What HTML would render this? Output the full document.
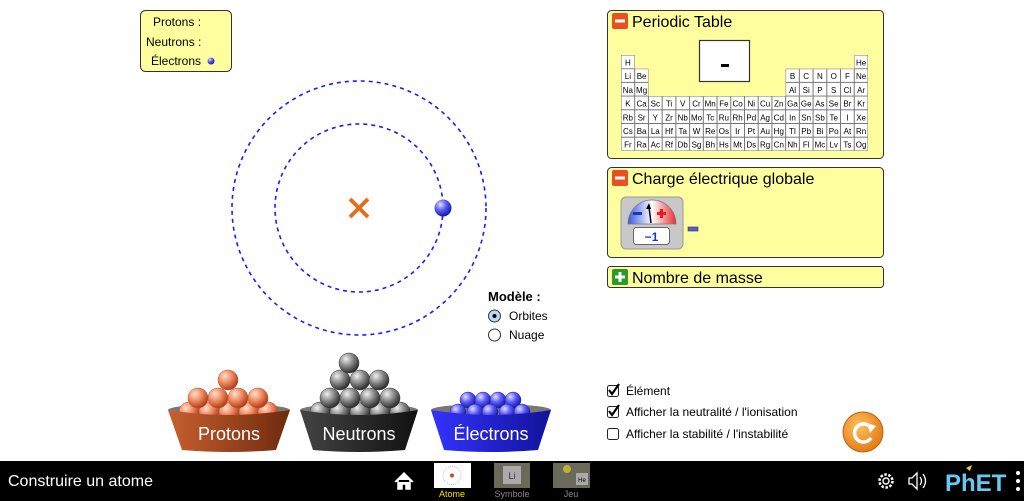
<!DOCTYPE html>
<html><head><meta charset="utf-8"><style>
html,body{margin:0;padding:0;width:1024px;height:501px;overflow:hidden;background:#fff}
svg{display:block;font-family:"Liberation Sans",sans-serif}
</style></head><body>
<svg width="1024" height="501" viewBox="0 0 1024 501" xmlns="http://www.w3.org/2000/svg">
<defs>
<radialGradient id="gp" cx="0.35" cy="0.3" r="0.7"><stop offset="0" stop-color="#ffe0d0"/><stop offset="0.5" stop-color="#f08a60"/><stop offset="1" stop-color="#b0401a"/></radialGradient>
<radialGradient id="gn" cx="0.35" cy="0.3" r="0.7"><stop offset="0" stop-color="#f0f0f0"/><stop offset="0.5" stop-color="#8a8a8a"/><stop offset="1" stop-color="#303030"/></radialGradient>
<radialGradient id="ge" cx="0.35" cy="0.3" r="0.7"><stop offset="0" stop-color="#e0e0ff"/><stop offset="0.5" stop-color="#5a5aff"/><stop offset="1" stop-color="#1a1aa0"/></radialGradient>
<linearGradient id="bp" x1="0" x2="1"><stop offset="0" stop-color="#c8602e"/><stop offset="1" stop-color="#6e2a0e"/></linearGradient>
<linearGradient id="bn" x1="0" x2="1"><stop offset="0" stop-color="#444"/><stop offset="1" stop-color="#111"/></linearGradient>
<linearGradient id="be" x1="0" x2="1"><stop offset="0" stop-color="#3333ff"/><stop offset="1" stop-color="#12129a"/></linearGradient>
<linearGradient id="gauge" x1="0" x2="1"><stop offset="0" stop-color="#3a5ae0"/><stop offset="0.5" stop-color="#fff"/><stop offset="1" stop-color="#e83030"/></linearGradient>
<radialGradient id="orng" cx="0.4" cy="0.35" r="0.7"><stop offset="0" stop-color="#ffc060"/><stop offset="1" stop-color="#e07810"/></radialGradient>
<pattern id="cell" patternUnits="userSpaceOnUse" x="621" y="55" width="13.72" height="13.7"><rect x="0" y="0" width="13.72" height="13.7" fill="#fff" stroke="#777" stroke-width="1"/></pattern>
</defs>

<rect x="140.5" y="10.5" width="91" height="61" rx="5" fill="#fefe9e" stroke="#333"/>
<text font-size="12" fill="#000"><tspan x="153" y="26">Protons :</tspan><tspan x="146" y="46">Neutrons :</tspan><tspan x="151" y="65">Électrons</tspan></text>
<circle cx="211" cy="61" r="3.5" fill="url(#ge)"/>

<circle cx="359" cy="208" r="84" fill="none" stroke="#1a1aff" stroke-width="1.6" stroke-dasharray="4,4"/>
<circle cx="359" cy="208" r="127" fill="none" stroke="#1a1aff" stroke-width="1.6" stroke-dasharray="4,4"/>
<path d="M350 199 L368 217 M368 199 L350 217" stroke="#e07020" stroke-width="4"/>
<circle cx="443" cy="208" r="8.5" fill="url(#ge)"/>

<text x="488" y="301" font-size="13" font-weight="bold">Modèle :</text>
<circle cx="494.5" cy="316" r="6" fill="#bcd8f5" stroke="#333"/><circle cx="494.5" cy="316" r="2" fill="#000"/>
<text x="509" y="320" font-size="12">Orbites</text>
<circle cx="494.5" cy="335" r="6" fill="#fff" stroke="#333"/>
<text x="509" y="339" font-size="12">Nuage</text>

<ellipse cx="229" cy="410" rx="61" ry="6" fill="#777"/>
<g fill="url(#gp)" stroke="#b85030" stroke-width="0.5">
<circle cx="189" cy="412" r="10"/><circle cx="209" cy="412" r="10"/><circle cx="229" cy="412" r="10"/><circle cx="249" cy="412" r="10"/><circle cx="268" cy="412" r="10"/>
<circle cx="198" cy="398" r="10"/><circle cx="218" cy="398" r="10"/><circle cx="238" cy="398" r="10"/><circle cx="258" cy="398" r="10"/>
<circle cx="228" cy="380" r="10"/></g>
<path d="M168 410 Q229 420 290 410 L276 450 Q229 454 182 450 Z" fill="url(#bp)"/>
<text x="229" y="440" font-size="18" fill="#fff" text-anchor="middle">Protons</text>

<ellipse cx="359" cy="410" rx="59" ry="6" fill="#777"/>
<g fill="url(#gn)" stroke="#333" stroke-width="0.5">
<circle cx="320" cy="412" r="10"/><circle cx="340" cy="412" r="10"/><circle cx="360" cy="412" r="10"/><circle cx="380" cy="412" r="10"/><circle cx="400" cy="412" r="10"/>
<circle cx="330" cy="398" r="10"/><circle cx="350" cy="398" r="10"/><circle cx="370" cy="398" r="10"/><circle cx="390" cy="398" r="10"/>
<circle cx="340" cy="380" r="10"/><circle cx="360" cy="380" r="10"/><circle cx="379" cy="380" r="10"/>
<circle cx="349" cy="363" r="10"/></g>
<path d="M300 410 Q359 420 418 410 L405 450 Q359 454 313 450 Z" fill="url(#bn)"/>
<text x="359" y="440" font-size="18" fill="#fff" text-anchor="middle">Neutrons</text>

<ellipse cx="491" cy="410" rx="60" ry="6" fill="#777"/>
<g fill="url(#ge)" stroke="#2020a0" stroke-width="0.5">
<circle cx="468" cy="400" r="8"/><circle cx="483" cy="400" r="8"/><circle cx="498" cy="400" r="8"/><circle cx="513" cy="400" r="8"/>
<circle cx="458" cy="412" r="8"/><circle cx="475" cy="412" r="8"/><circle cx="490" cy="412" r="8"/><circle cx="507" cy="412" r="8"/><circle cx="522" cy="412" r="8"/></g>
<path d="M431 410 Q491 420 551 410 L538 450 Q491 454 444 450 Z" fill="url(#be)"/>
<text x="491" y="440" font-size="18" fill="#fff" text-anchor="middle">Électrons</text>

<rect x="607.5" y="10.5" width="276" height="148" rx="4" fill="#fefe9e" stroke="#333"/>
<rect x="612" y="13" width="16" height="16" rx="2" fill="#e85020"/><rect x="615" y="19.5" width="10" height="3" fill="#fff"/>
<text x="632" y="27" font-size="16">Periodic Table</text>
<rect x="699.5" y="40.5" width="50" height="41" fill="#fff" stroke="#333" stroke-width="1.2"/>
<rect x="721" y="64" width="8" height="3" fill="#000"/>
<g fill="url(#cell)">
<rect x="621" y="55" width="13.72" height="13.7"/><rect x="854.24" y="55" width="13.72" height="13.7"/>
<rect x="621" y="68.7" width="27.44" height="27.4"/><rect x="785.64" y="68.7" width="82.32" height="27.4"/>
<rect x="621" y="96.1" width="246.96" height="54.8"/>
</g>
<g font-size="8" text-anchor="middle" fill="#000">
<text y="65.5"><tspan x="627.9">H</tspan><tspan x="861.1">He</tspan></text>
<text y="79.2"><tspan x="627.9">Li</tspan><tspan x="641.6">Be</tspan><tspan x="792.5">B</tspan><tspan x="806.2">C</tspan><tspan x="819.9">N</tspan><tspan x="833.7">O</tspan><tspan x="847.4">F</tspan><tspan x="861.1">Ne</tspan></text>
<text y="92.9"><tspan x="627.9">Na</tspan><tspan x="641.6">Mg</tspan><tspan x="792.5">Al</tspan><tspan x="806.2">Si</tspan><tspan x="819.9">P</tspan><tspan x="833.7">S</tspan><tspan x="847.4">Cl</tspan><tspan x="861.1">Ar</tspan></text>
<text y="106.6"><tspan x="627.9">K</tspan><tspan x="641.6">Ca</tspan><tspan x="655.3">Sc</tspan><tspan x="669">Ti</tspan><tspan x="682.7">V</tspan><tspan x="696.5">Cr</tspan><tspan x="710.2">Mn</tspan><tspan x="723.9">Fe</tspan><tspan x="737.6">Co</tspan><tspan x="751.3">Ni</tspan><tspan x="765.1">Cu</tspan><tspan x="778.8">Zn</tspan><tspan x="792.5">Ga</tspan><tspan x="806.2">Ge</tspan><tspan x="819.9">As</tspan><tspan x="833.7">Se</tspan><tspan x="847.4">Br</tspan><tspan x="861.1">Kr</tspan></text>
<text y="120.3"><tspan x="627.9">Rb</tspan><tspan x="641.6">Sr</tspan><tspan x="655.3">Y</tspan><tspan x="669">Zr</tspan><tspan x="682.7">Nb</tspan><tspan x="696.5">Mo</tspan><tspan x="710.2">Tc</tspan><tspan x="723.9">Ru</tspan><tspan x="737.6">Rh</tspan><tspan x="751.3">Pd</tspan><tspan x="765.1">Ag</tspan><tspan x="778.8">Cd</tspan><tspan x="792.5">In</tspan><tspan x="806.2">Sn</tspan><tspan x="819.9">Sb</tspan><tspan x="833.7">Te</tspan><tspan x="847.4">I</tspan><tspan x="861.1">Xe</tspan></text>
<text y="134"><tspan x="627.9">Cs</tspan><tspan x="641.6">Ba</tspan><tspan x="655.3">La</tspan><tspan x="669">Hf</tspan><tspan x="682.7">Ta</tspan><tspan x="696.5">W</tspan><tspan x="710.2">Re</tspan><tspan x="723.9">Os</tspan><tspan x="737.6">Ir</tspan><tspan x="751.3">Pt</tspan><tspan x="765.1">Au</tspan><tspan x="778.8">Hg</tspan><tspan x="792.5">Tl</tspan><tspan x="806.2">Pb</tspan><tspan x="819.9">Bi</tspan><tspan x="833.7">Po</tspan><tspan x="847.4">At</tspan><tspan x="861.1">Rn</tspan></text>
<text y="147.7"><tspan x="627.9">Fr</tspan><tspan x="641.6">Ra</tspan><tspan x="655.3">Ac</tspan><tspan x="669">Rf</tspan><tspan x="682.7">Db</tspan><tspan x="696.5">Sg</tspan><tspan x="710.2">Bh</tspan><tspan x="723.9">Hs</tspan><tspan x="737.6">Mt</tspan><tspan x="751.3">Ds</tspan><tspan x="765.1">Rg</tspan><tspan x="778.8">Cn</tspan><tspan x="792.5">Nh</tspan><tspan x="806.2">Fl</tspan><tspan x="819.9">Mc</tspan><tspan x="833.7">Lv</tspan><tspan x="847.4">Ts</tspan><tspan x="861.1">Og</tspan></text>
</g>

<rect x="607.5" y="167.5" width="276" height="90" rx="4" fill="#fefe9e" stroke="#333"/>
<rect x="612" y="170" width="16" height="16" rx="2" fill="#e85020"/><rect x="615" y="176.5" width="10" height="3" fill="#fff"/>
<text x="632" y="184" font-size="16">Charge électrique globale</text>
<rect x="621" y="197" width="62" height="52" rx="5" fill="#c8c8c8" stroke="#999"/>
<path d="M628 224 A24 24 0 0 1 676 224 Z" fill="url(#gauge)" stroke="#777" stroke-width="0.8"/>
<rect x="633" y="212" width="9" height="3" fill="#1a3ab0"/>
<path d="M660 209 h3 v3 h3 v3 h-3 v3 h-3 v-3 h-3 v-3 h3 Z" fill="#e02020"/>
<path d="M651 223 L649 207" stroke="#000" stroke-width="1.5"/><path d="M646 209 L649 203 L651 209 Z" fill="#000"/>
<rect x="633.5" y="227.5" width="36" height="17" rx="3" fill="#fff" stroke="#666"/>
<text x="651.5" y="241" font-size="12" font-weight="bold" fill="#1a3ad0" text-anchor="middle">−1</text>
<rect x="688" y="227" width="10" height="4" fill="#5a5ae0" stroke="#333" stroke-width="0.6"/>

<rect x="607.5" y="266.5" width="276" height="21" rx="3" fill="#fefe9e" stroke="#333"/>
<rect x="612" y="269" width="16" height="16" rx="2" fill="#2a9a2a"/><rect x="615" y="275.5" width="10" height="3" fill="#fff"/><rect x="618.5" y="272" width="3" height="10" fill="#fff"/>
<text x="632" y="283" font-size="16">Nombre de masse</text>

<g font-size="12">
<rect x="607.5" y="385.5" width="11" height="11" rx="2" fill="#fff" stroke="#222"/><path d="M609 390 L612 394 L619 384" stroke="#000" stroke-width="2.2" fill="none"/>
<text x="626" y="395">Élément</text>
<rect x="607.5" y="406.5" width="11" height="11" rx="2" fill="#fff" stroke="#222"/><path d="M609 411 L612 415 L619 405" stroke="#000" stroke-width="2.2" fill="none"/>
<text x="626" y="416">Afficher la neutralité / l'ionisation</text>
<rect x="607.5" y="428.5" width="11" height="11" rx="2" fill="#fff" stroke="#222"/>
<text x="626" y="438">Afficher la stabilité / l'instabilité</text>
</g>
<circle cx="863" cy="432" r="20" fill="url(#orng)" stroke="#c06010"/>
<path d="M871 428 A9 9 0 1 0 871 438" stroke="#fff" stroke-width="3.5" fill="none"/>
<path d="M867 423 L876 426 L870 433 Z" fill="#fff"/>

<rect x="0" y="461" width="1024" height="40" fill="#000"/>
<text x="8" y="486" font-size="16" fill="#fff">Construire un atome</text>
<path d="M395 482 L404 473 L413 482 M398 480 V489 H402 V484 H406 V489 H410 V480" fill="#fff" stroke="#fff" stroke-width="1.5"/>
<rect x="434" y="463" width="37" height="25" fill="#fff"/>
<circle cx="452" cy="475.5" r="9" fill="none" stroke="#99f" stroke-width="0.6" stroke-dasharray="1,1"/>
<circle cx="452" cy="475.5" r="2" fill="#c05020"/>
<text x="452" y="497" font-size="9" fill="#ffe000" text-anchor="middle">Atome</text>
<rect x="494" y="463" width="36" height="25" fill="#6a6a5a"/>
<rect x="503" y="466" width="18" height="18" fill="#aaa"/><text x="512" y="479" font-size="9" fill="#333" text-anchor="middle">Li</text>
<text x="512" y="497" font-size="9" fill="#888" text-anchor="middle">Symbole</text>
<rect x="553" y="463" width="37" height="25" fill="#6a6a5a"/>
<circle cx="567" cy="469" r="4" fill="#c0b030"/><rect x="576" y="473" width="12" height="12" fill="#aaa"/><text x="582" y="482" font-size="6" text-anchor="middle">He</text>
<text x="571" y="497" font-size="9" fill="#888" text-anchor="middle">Jeu</text>
<circle cx="886" cy="481" r="6.5" fill="none" stroke="#fff" stroke-width="2.5" stroke-dasharray="2.5,1.6"/><circle cx="886" cy="481" r="3" fill="none" stroke="#fff" stroke-width="1.4"/>
<path d="M909 478 h3 l5 -5 v16 l-5 -5 h-3 Z" fill="none" stroke="#fff" stroke-width="1.3"/>
<path d="M920 477 q3 4 0 8 M923 474 q5 7 0 14" fill="none" stroke="#fff" stroke-width="1.3"/>
<text x="945" y="491" font-size="24" font-weight="bold" fill="#6ac8f0">PhET</text>
<path d="M966 468 l6 -3 l-2 6 Z" fill="#f0d020"/>
<circle cx="1018" cy="473" r="2" fill="#fff"/><circle cx="1018" cy="481" r="2" fill="#fff"/><circle cx="1018" cy="489" r="2" fill="#fff"/>
</svg>
</body></html>
